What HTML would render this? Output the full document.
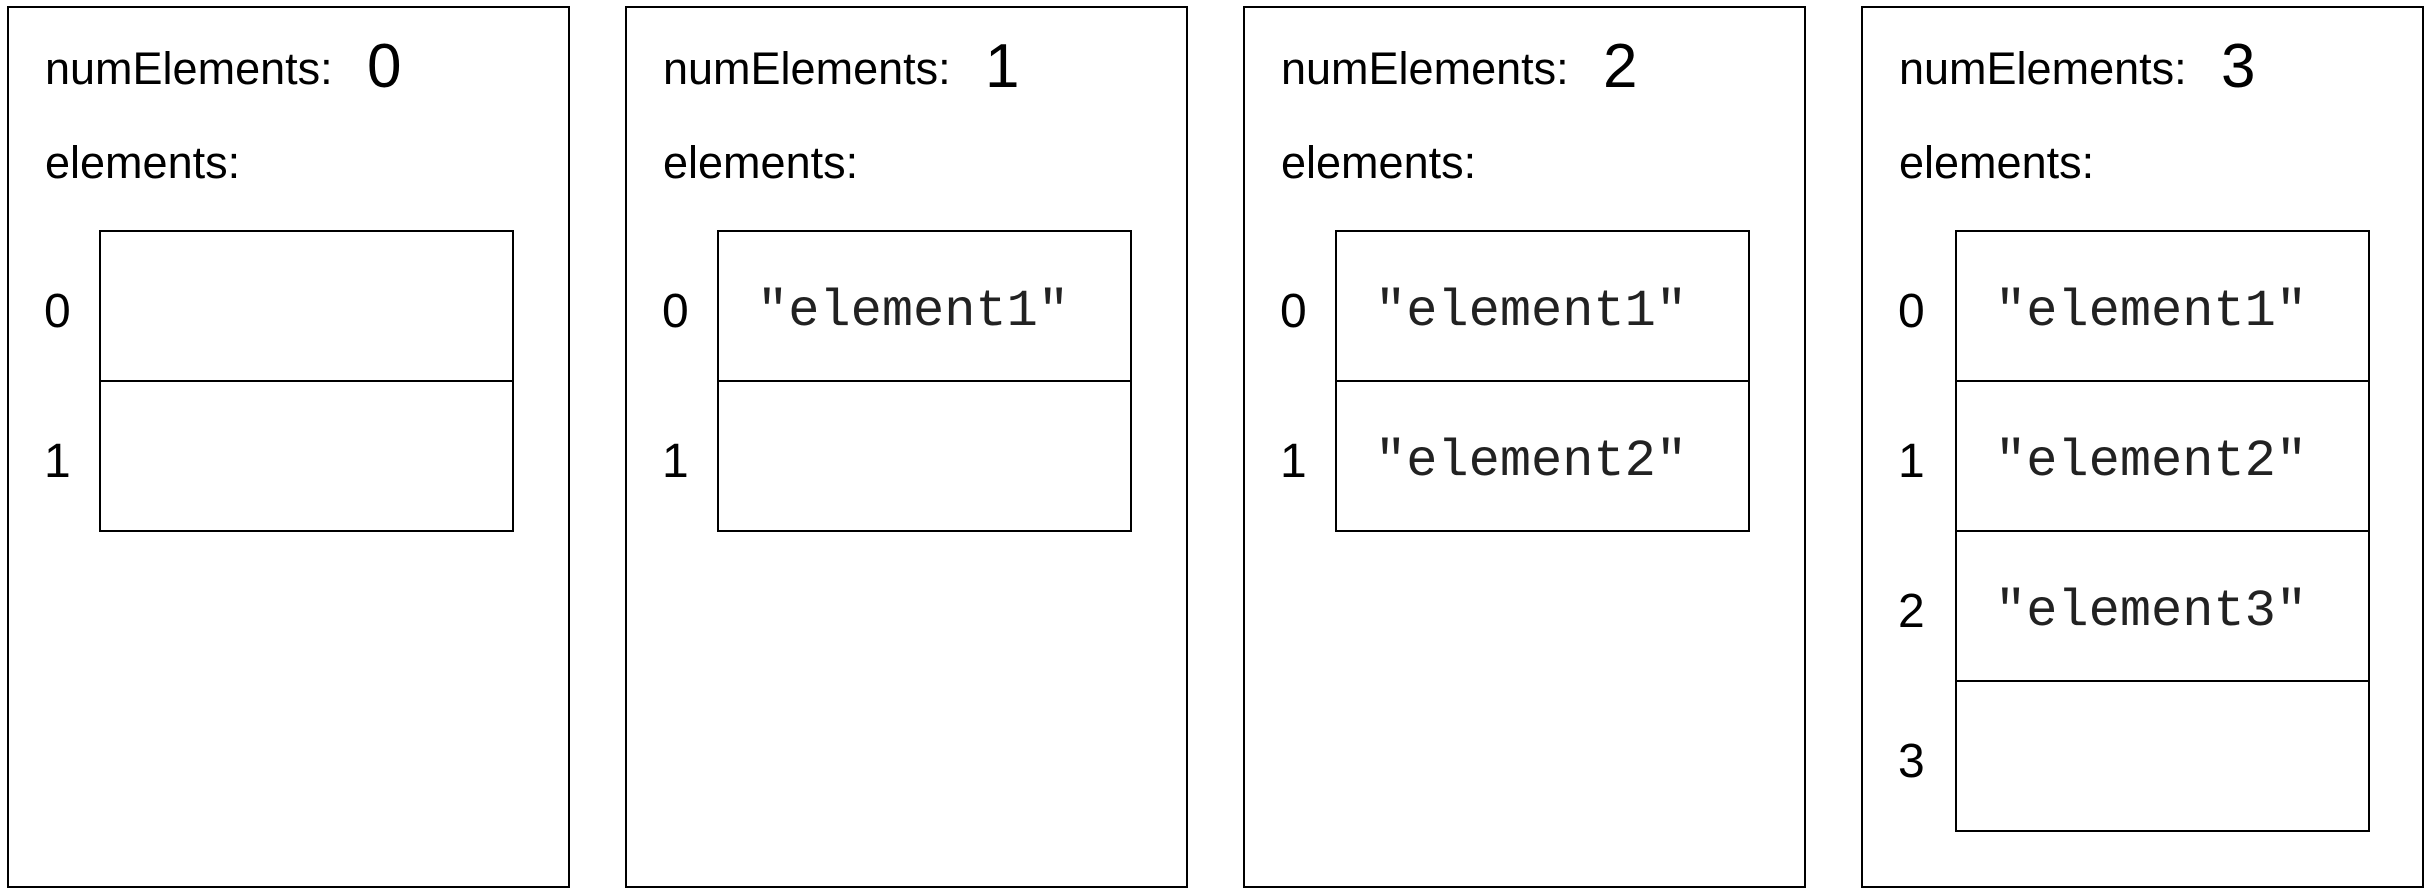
<!DOCTYPE html>
<html><head><style>
body{margin:0;width:2429px;height:892px;background:#fff;position:relative;overflow:hidden;font-family:"Liberation Sans",sans-serif;}
.p{position:absolute;top:6px;width:563px;height:882px;border:2px solid #000;box-sizing:border-box;}
.t{position:absolute;white-space:nowrap;font-size:45px;line-height:1;}
.i{font-size:48px;}
.big{font-size:62px;}
.box{position:absolute;left:90px;width:415px;height:152px;border:2px solid #000;box-sizing:border-box;}
.m{position:absolute;left:38px;white-space:nowrap;top:54px;font-family:"Liberation Mono",monospace;font-size:52px;line-height:1;color:#222;}
</style></head><body>
<div class="p" style="left:7px">
 <div class="t" style="left:36px;top:38px">numElements:</div><div class="t big" style="left:358px;top:28px">0</div>
 <div class="t" style="left:36px;top:132px">elements:</div>
 <div class="box" style="top:222px"></div><div class="box" style="top:372px"></div>
 <div class="t i" style="left:35px;top:280px">0</div><div class="t i" style="left:35px;top:430px">1</div>
</div>
<div class="p" style="left:625px">
 <div class="t" style="left:36px;top:38px">numElements:</div><div class="t big" style="left:358px;top:28px">1</div>
 <div class="t" style="left:36px;top:132px">elements:</div>
 <div class="box" style="top:222px"><div class="m">"element1"</div></div><div class="box" style="top:372px"></div>
 <div class="t i" style="left:35px;top:280px">0</div><div class="t i" style="left:35px;top:430px">1</div>
</div>
<div class="p" style="left:1243px">
 <div class="t" style="left:36px;top:38px">numElements:</div><div class="t big" style="left:358px;top:28px">2</div>
 <div class="t" style="left:36px;top:132px">elements:</div>
 <div class="box" style="top:222px"><div class="m">"element1"</div></div><div class="box" style="top:372px"><div class="m">"element2"</div></div>
 <div class="t i" style="left:35px;top:280px">0</div><div class="t i" style="left:35px;top:430px">1</div>
</div>
<div class="p" style="left:1861px">
 <div class="t" style="left:36px;top:38px">numElements:</div><div class="t big" style="left:358px;top:28px">3</div>
 <div class="t" style="left:36px;top:132px">elements:</div>
 <div class="box" style="top:222px;left:92px"><div class="m">"element1"</div></div><div class="box" style="top:372px;left:92px"><div class="m">"element2"</div></div>
 <div class="box" style="top:522px;left:92px"><div class="m">"element3"</div></div><div class="box" style="top:672px;left:92px"></div>
 <div class="t i" style="left:35px;top:280px">0</div><div class="t i" style="left:35px;top:430px">1</div>
 <div class="t i" style="left:35px;top:580px">2</div><div class="t i" style="left:35px;top:730px">3</div>
</div>
</body></html>
